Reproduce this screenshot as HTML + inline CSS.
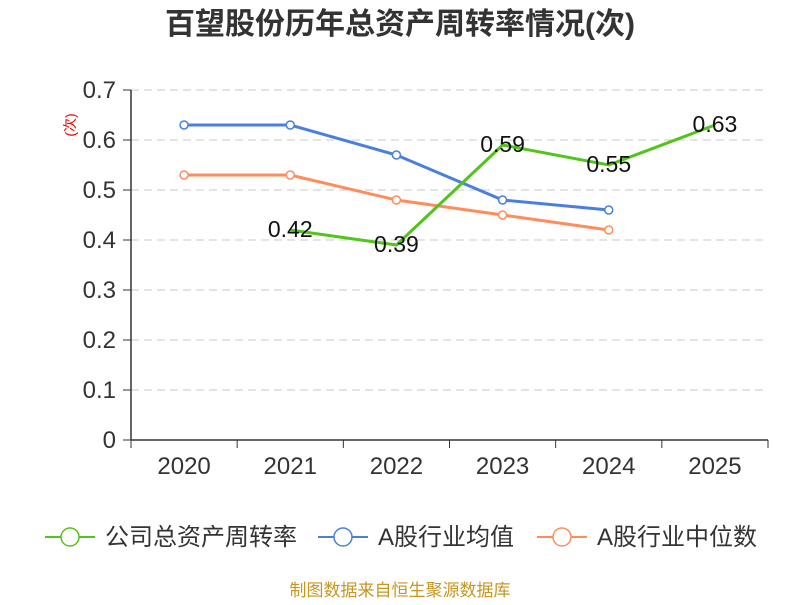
<!DOCTYPE html>
<html><head><meta charset="utf-8"><style>
body{margin:0;background:#fff;}
svg text{font-family:"Liberation Sans","Noto Sans CJK SC",sans-serif;}
</style></head><body>
<svg id="chart" width="800" height="600" xmlns="http://www.w3.org/2000/svg">
<text x="400" y="34" text-anchor="middle" font-size="30" font-weight="bold" fill="#333">百望股份历年总资产周转率情况(次)</text>
<text transform="translate(75,125) rotate(-90)" text-anchor="middle" font-size="14" fill="#e00">(次)</text>
<g id="grid"></g><g id="axes"></g><g id="series"></g>
<g>
<g><line x1="45" y1="537" x2="95" y2="537" stroke="#52c41a" stroke-width="2"/><circle cx="70" cy="537" r="9" fill="#fff" stroke="#52c41a" stroke-width="1.5"/><text x="105" y="545" font-size="24" fill="#333">公司总资产周转率</text></g>
<g><line x1="318" y1="537" x2="368" y2="537" stroke="#4a7fdf" stroke-width="2"/><circle cx="343" cy="537" r="9" fill="#fff" stroke="#4a7fdf" stroke-width="1.5"/><text x="378" y="545" font-size="24" fill="#333">A股行业均值</text></g>
<g><line x1="537" y1="537" x2="587" y2="537" stroke="#ff8c5a" stroke-width="2"/><circle cx="562" cy="537" r="9" fill="#fff" stroke="#ff8c5a" stroke-width="1.5"/><text x="597" y="545" font-size="24" fill="#333">A股行业中位数</text></g>
</g>
<text x="400" y="596" text-anchor="middle" font-size="17" fill="#c8961e">制图数据来自恒生聚源数据库</text>
</svg>
<script>
const categories=["2020","2021","2022","2023","2024","2025"];
const yTicks=[0,0.1,0.2,0.3,0.4,0.5,0.6,0.7];
const companyValues=[null,0.42,0.39,0.59,0.55,0.63];
const meanValues=[0.63,0.63,0.57,0.48,0.46,null];
const medianValues=[0.53,0.53,0.48,0.45,0.42,null];
const NS="http://www.w3.org/2000/svg";
const L=131,R=768,T=90,B=440,yMax=0.7;
const bw=(R-L)/categories.length;
const x=i=>L+bw*(i+0.5);
const y=v=>B-(v/yMax)*(B-T);
function mk(tag,attrs,parent){const e=document.createElementNS(NS,tag);for(const k in attrs)e.setAttribute(k,attrs[k]);parent.appendChild(e);return e;}
const grid=document.getElementById('grid'),axes=document.getElementById('axes'),series=document.getElementById('series');
yTicks.forEach(t=>{
 if(t>0){const g=mk('line',{x1:L,x2:R,y1:y(t),y2:y(t),stroke:'#c8c8c8','stroke-dasharray':'8,5'},grid);
 
 }
 const tk=mk('line',{x1:L-8,x2:L,y1:y(t),y2:y(t),stroke:'#333'},axes);
 
 
 const lb=mk('text',{x:L-15,y:y(t)+8,'text-anchor':'end','font-size':'24',fill:'#333'},axes);
 lb.textContent=t===0?'0':t.toFixed(1);
 
 
});
const ya=mk('line',{x1:L,x2:L,y1:T,y2:B,stroke:'#333','stroke-width':1.5},axes);


const xa=mk('line',{x1:L,x2:R,y1:B,y2:B,stroke:'#333','stroke-width':1.5},axes);


for(let i=0;i<=categories.length;i++){const tk=mk('line',{x1:L+bw*i,x2:L+bw*i,y1:B,y2:B+8,stroke:'#333'},axes);
 
 }
categories.forEach((c,i)=>{const lb=mk('text',{x:x(i),y:B+34,'text-anchor':'middle','font-size':'24',fill:'#333'},axes);
 lb.textContent=c;
 
 });
function drawLine(vals,color,name,markers,labels){
 const pts=[];vals.forEach((v,i)=>{if(v!=null)pts.push([x(i),y(v),v]);});
 const p=mk('polyline',{points:pts.map(q=>q[0]+','+q[1]).join(' '),fill:'none',stroke:color,'stroke-width':3},series);
 
 
 pts.forEach(q=>{
  if(markers){const c=mk('circle',{cx:q[0],cy:q[1],r:4,fill:'#fff',stroke:color,'stroke-width':1.5},series);
   
   }
  if(labels){const t=mk('text',{x:q[0],y:q[1]+7,'text-anchor':'middle','font-size':'23',fill:'#111'},series);
   t.textContent=q[2].toFixed(2);
   
   }
 });
}
drawLine(meanValues,'#4a7fdf','industry-mean',true,false);
drawLine(medianValues,'#ff8c5a','industry-median',true,false);
drawLine(companyValues,'#52c41a','company',false,true);
</script>
</body></html>
